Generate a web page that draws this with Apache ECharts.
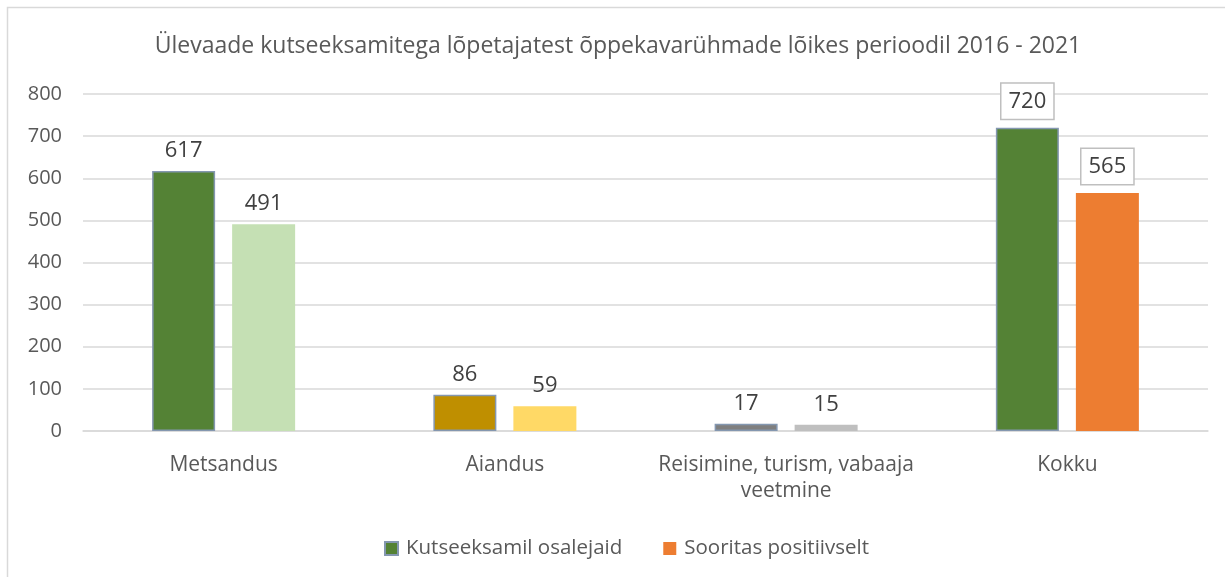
<!DOCTYPE html>
<html>
<head>
<meta charset="utf-8">
<script src="https://cdn.jsdelivr.net/npm/echarts@6/dist/echarts.min.js"></script>
<style>
html, body { margin: 0; padding: 0; background: #fff; }
#chart { width: 1225px; height: 577px; }
</style>
</head>
<body>
<div id="chart"></div>
<script>
var categories = ['Metsandus', 'Aiandus', 'Reisimine, turism, vabaaja\nveetmine', 'Kokku'];
var seriesNames = ['Kutseeksamil osalejaid', 'Sooritas positiivselt'];
var participants = [617, 86, 17, 720];
var passed = [491, 59, 15, 565];
var yTicks = [0, 100, 200, 300, 400, 500, 600, 700, 800];

var darkColors = ['#548235', '#BF8F00', '#7F7F7F', '#548235'];
var lightColors = ['#C5E0B4', '#FFD966', '#BFBFBF', '#ED7D31'];

var textColor = '#595959';
var font = 'Open Sans';

function boxedLabel(i) {
    // viimase grupi sildid on raamiga
    if (i !== categories.length - 1) return {};
    return {
        backgroundColor: '#fff',
        borderColor: '#BFBFBF',
        borderWidth: 1.5,
        padding: [7, 7, 6, 7],
        distance: 9
    };
}

var chart = echarts.init(document.getElementById('chart'));

var option = {
    animation: false,
    backgroundColor: '#fff',
    graphic: [{
        type: 'rect',
        shape: { x: 7.5, y: 7.5, width: 1240, height: 600 },
        style: { fill: 'none', stroke: '#D9D9D9', lineWidth: 1.5 },
        silent: true
    }],
    title: {
        text: 'Ülevaade kutseeksamitega lõpetajatest õppekavarühmade lõikes perioodil 2016 - 2021',
        left: 613,
        textAlign: 'center',
        top: 30,
        textStyle: { fontFamily: font, fontSize: 23, fontWeight: 'normal', color: textColor }
    },
    legend: {
        data: seriesNames,
        left: 379,
        top: 533,
        itemWidth: 13,
        itemHeight: 13,
        itemGap: 41,
        icon: 'rect',
        textStyle: { fontFamily: font, fontSize: 20.5, color: textColor, padding: [0, 0, 0, 3] }
    },
    grid: { left: 83, right: 17, top: 94, bottom: 146 },
    xAxis: {
        type: 'category',
        data: categories,
        axisLine: { lineStyle: { color: '#D9D9D9', width: 1.5 } },
        axisTick: { show: false },
        axisLabel: {
            fontFamily: font, fontSize: 21, color: textColor,
            margin: 21, lineHeight: 26, interval: 0
        }
    },
    yAxis: {
        type: 'value',
        min: yTicks[0],
        max: yTicks[yTicks.length - 1],
        interval: 100,
        axisLine: { show: false },
        axisTick: { show: false },
        splitLine: { lineStyle: { color: '#D9D9D9', width: 1.5 } },
        axisLabel: { fontFamily: font, fontSize: 20, color: textColor, margin: 21 }
    },
    series: [{
        name: seriesNames[0],
        type: 'bar',
        barWidth: 63,
        barGap: '27%',
        itemStyle: { color: darkColors[0], borderColor: '#8497B0', borderWidth: 1.5 },
        label: {
            show: true, position: 'top', distance: 9,
            fontFamily: font, fontSize: 22, color: '#404040'
        },
        data: participants.map(function (v, i) {
            return {
                value: v,
                itemStyle: { color: darkColors[i] },
                label: boxedLabel(i)
            };
        })
    }, {
        name: seriesNames[1],
        type: 'bar',
        barWidth: 63,
        itemStyle: { color: lightColors[3] },
        label: {
            show: true, position: 'top', distance: 9,
            fontFamily: font, fontSize: 22, color: '#404040'
        },
        data: passed.map(function (v, i) {
            return {
                value: v,
                itemStyle: { color: lightColors[i] },
                label: boxedLabel(i)
            };
        })
    }]
};

chart.setOption(option);
</script>
</body>
</html>
